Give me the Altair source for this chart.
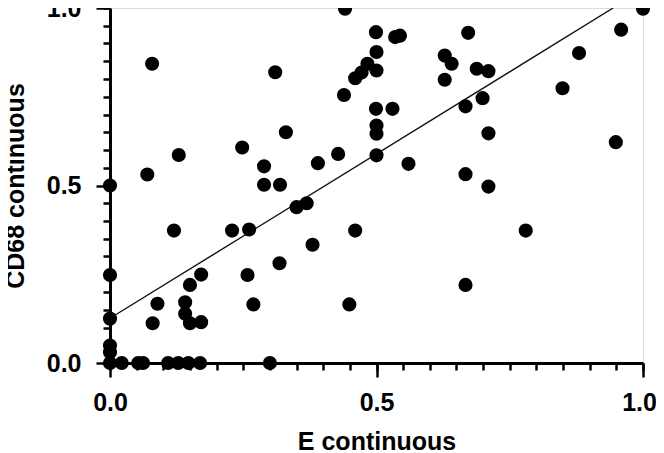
import altair as alt
import pandas as pd

# E continuous (x) and CD68 continuous (y)
e_vals = [0.079, 0.310, 0.330, 0.248, 0.129, 0.070, 0.0, 0.289, 0.289, 0.319,
          0.120, 0.229, 0.261, 0.318, 0.258, 0.269, 0.0, 0.171, 0.150, 0.089,
          0.141, 0.141, 0.150, 0.171, 0.080, 0.0, 0.0, 0.0,
          0.0, 0.022, 0.053, 0.062, 0.109, 0.128, 0.147, 0.169, 0.300,
          0.441, 0.499, 0.535, 0.544, 0.500, 0.483, 0.472, 0.500, 0.460, 0.439,
          0.499, 0.530, 0.500, 0.500, 0.428, 0.390, 0.500, 0.560, 0.350, 0.369,
          0.460, 0.380, 0.449,
          0.672, 0.628, 0.641, 0.628, 0.688, 0.710, 0.699, 0.667, 0.710, 0.667,
          0.710, 0.780, 0.667, 0.849, 0.880, 0.959, 1.0, 0.949]
cd68_vals = [0.843, 0.819, 0.650, 0.607, 0.586, 0.531, 0.500, 0.554, 0.502, 0.502,
             0.373, 0.373, 0.376, 0.281, 0.248, 0.165, 0.248, 0.249, 0.220, 0.167,
             0.171, 0.139, 0.112, 0.115, 0.112, 0.125, 0.049, 0.030,
             0.0, 0.0, 0.0, 0.0, 0.0, 0.0, 0.0, 0.0, 0.0,
             0.998, 0.932, 0.918, 0.922, 0.876, 0.843, 0.818, 0.824, 0.802, 0.755,
             0.716, 0.716, 0.669, 0.646, 0.589, 0.563, 0.585, 0.561, 0.439, 0.450,
             0.373, 0.333, 0.165,
             0.930, 0.866, 0.843, 0.798, 0.829, 0.822, 0.746, 0.723, 0.647, 0.532,
             0.497, 0.373, 0.220, 0.774, 0.873, 0.939, 0.998, 0.622]

# fitted line end points
fit_x = [0.0, 0.944]
fit_y = [0.126, 1.0]

major_ticks = [0.0, 0.5, 1.0]
minor_ticks = [round(i * 0.05, 2) for i in range(21)]

points_df = pd.DataFrame({"E": e_vals, "CD68": cd68_vals})
line_df = pd.DataFrame({"E": fit_x, "CD68": fit_y})

FONT = "Liberation Sans"


def major_axis(title, orient, title_pad, label_pad, label_offset=0):
    return alt.Axis(
        orient=orient,
        values=major_ticks,
        tickSize=14,
        tickWidth=2.5,
        tickColor="black",
        domainWidth=3,
        domainColor="black",
        grid=False,
        format=".1f",
        labelOverlap=False,
        labelFlush=False,
        labelFont=FONT,
        labelFontWeight="bold",
        labelFontSize=25,
        labelColor="black",
        labelPadding=label_pad,
        labelOffset={"condition": {"test": "datum.value >= 0.99", "value": label_offset},
                     "value": 0},
        title=title,
        titleFont=FONT,
        titleFontWeight="bold",
        titleFontSize=25,
        titleColor="black",
        titlePadding=title_pad,
    )


def minor_axis(orient):
    return alt.Axis(
        orient=orient,
        values=minor_ticks,
        tickSize=7,
        tickWidth=2.5,
        tickColor="black",
        domain=False,
        grid=False,
        labels=False,
        title=None,
    )


scale = alt.Scale(domain=[0, 1], nice=False, zero=False)

points = alt.Chart(points_df).mark_circle(size=200, color="black", opacity=1).encode(
    x=alt.X("E:Q", scale=scale, axis=major_axis("E continuous", "bottom", 14, 13, -4)),
    y=alt.Y("CD68:Q", scale=scale, axis=major_axis("CD68 continuous", "left", 18, 15, 0)),
)
line = alt.Chart(line_df).mark_line(color="#111111", strokeWidth=1.4).encode(
    x=alt.X("E:Q", scale=scale, axis=minor_axis("bottom")),
    y=alt.Y("CD68:Q", scale=scale, axis=minor_axis("left")),
)

chart = alt.layer(line, points).resolve_axis(x="independent", y="independent").properties(
    width=533,
    height=355,
    autosize=alt.AutoSizeParams(type="none"),
    padding={"left": 102, "top": 0, "right": 13, "bottom": 90},
).configure_view(stroke=None).configure(background="white")

chart.save("out.html", embed_options={"renderer": "svg", "actions": False})
